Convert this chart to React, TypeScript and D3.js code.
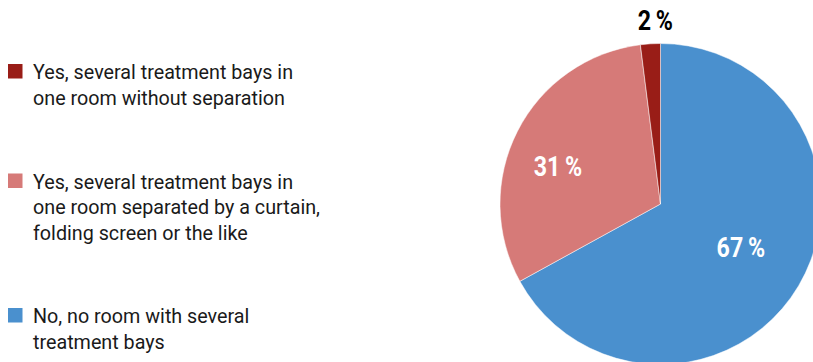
import React from "react";
import * as d3 from "d3";

const categories = [
  "No, no room with several treatment bays",
  "Yes, several treatment bays in one room separated by a curtain, folding screen or the like",
  "Yes, several treatment bays in one room without separation",
];
const values = [67, 31, 2];
const valueLabels = ["67 %", "31 %", "2 %"];
const colors = ["#4A90CE", "#D67A78", "#991D17"];

const legendOrder = [2, 1, 0];
const legendLines = [
  ["No, no room with several", "treatment bays"],
  ["Yes, several treatment bays in", "one room separated by a curtain,", "folding screen or the like"],
  ["Yes, several treatment bays in", "one room without separation"],
];

const W = 813;
const H = 362;
const FONT = "Roboto, 'Liberation Sans', sans-serif";

export default function App() {
  const cx = 660.5;
  const cy = 204;
  const R = 160.5;
  const pie = d3.pie<number>().sort(null).value((d) => d)(values);
  const arc = d3.arc<d3.PieArcDatum<number>>().innerRadius(0).outerRadius(R);

  const labelR = [0.57, 0.68, 1.14];
  const labelShift = [-2, -7, 2];
  const labelFill = ["#ffffff", "#ffffff", "#000000"];

  const legendY = [64, 173.5, 308];
  const lineH = 25.6;
  const sx = 0.94;

  return (
    <svg
      width={W}
      height={H}
      style={{ position: "absolute", left: 0, top: 0, background: "#fff" }}
      fontFamily={FONT}
    >
      <g transform={`translate(${cx},${cy})`}>
        {pie.map((p, i) => (
          <path key={i} d={arc(p) || ""} fill={colors[i]} stroke="#fff" strokeWidth={0.5} />
        ))}
        {pie.map((p, i) => {
          const a = (p.startAngle + p.endAngle) / 2 + (labelShift[i] * Math.PI) / 180;
          const r = labelR[i] * R;
          const x = r * Math.sin(a);
          const y = -r * Math.cos(a);
          return (
            <g key={i} transform={`translate(${x},${y}) scale(0.86,1)`}>
              <text
                x={0}
                y={0}
                textAnchor="middle"
                dominantBaseline="central"
                fontWeight="bold"
                fontSize={27}
                fill={labelFill[i]}
              >
                {valueLabels[i].replace(" ", "\u2009")}
              </text>
            </g>
          );
        })}
      </g>
      {legendOrder.map((idx, k) => (
        <g key={idx} transform={`translate(0,${legendY[k]})`}>
          <rect x={8} y={0} width={14.5} height={14.5} fill={colors[idx]} />
          <g transform={`translate(33,0) scale(${sx},1)`}>
            <text x={0} y={15} fontSize={21} fill="#1a1a1a">
              {legendLines[idx].map((ln, j) => (
                <tspan key={j} x={0} dy={j === 0 ? 0 : lineH}>
                  {ln}
                </tspan>
              ))}
            </text>
          </g>
        </g>
      ))}
      <title>{categories.join(" / ")}</title>
    </svg>
  );
}
